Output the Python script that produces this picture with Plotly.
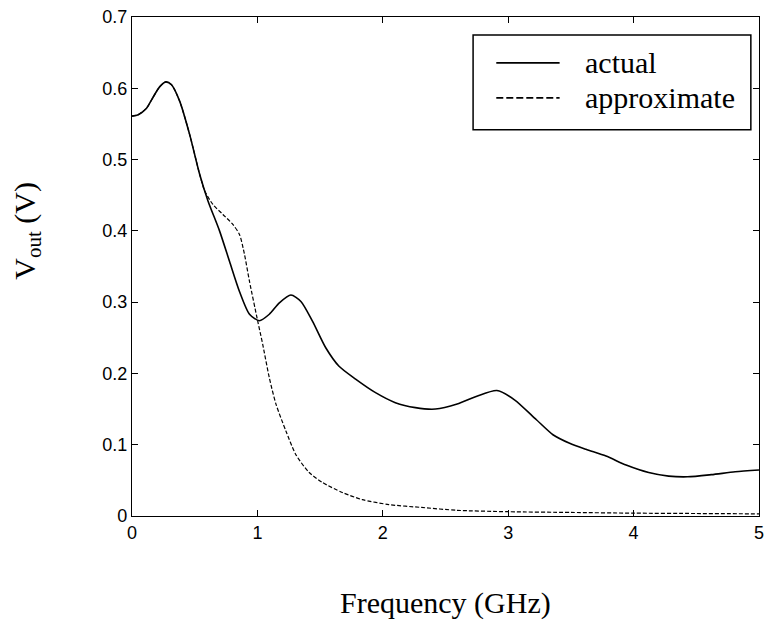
import plotly.graph_objects as go

# Frequency (GHz) and output voltage (V)
actual_f = [0.0, 0.05, 0.116, 0.16, 0.22, 0.27, 0.315, 0.38, 0.46, 0.54, 0.606, 0.698, 0.778,
            0.857, 0.937, 1.016, 1.095, 1.175, 1.267, 1.347, 1.44, 1.545, 1.651,
            1.783, 1.942, 2.10, 2.26, 2.42, 2.593, 2.75, 2.91, 3.05, 3.225,
            3.357, 3.49, 3.62, 3.78, 3.94, 4.12, 4.28, 4.43, 4.62, 4.81, 5.0]
actual_v = [0.561, 0.563, 0.572, 0.585, 0.602, 0.609, 0.605, 0.582, 0.535, 0.479, 0.442, 0.400, 0.357,
            0.315, 0.283, 0.274, 0.283, 0.299, 0.310, 0.301, 0.273, 0.236, 0.210,
            0.192, 0.173, 0.159, 0.152, 0.150, 0.157, 0.168, 0.176, 0.163, 0.135,
            0.114, 0.102, 0.0935, 0.084, 0.0715, 0.061, 0.056, 0.055, 0.058, 0.062, 0.0645]

approx_f = [0.0, 0.05, 0.116, 0.16, 0.22, 0.27, 0.315, 0.38, 0.46, 0.54, 0.58, 0.645, 0.725,
            0.804, 0.857, 0.897, 0.937, 1.003, 1.042, 1.095, 1.148, 1.228, 1.307,
            1.413, 1.519, 1.677, 1.836, 2.048, 2.31, 2.59, 3.0, 3.5, 4.0, 4.5, 5.0]
approx_v = [0.561, 0.563, 0.572, 0.585, 0.602, 0.609, 0.605, 0.582, 0.535, 0.479, 0.456, 0.437, 0.423,
            0.409, 0.395, 0.367, 0.329, 0.273, 0.241, 0.194, 0.157, 0.119, 0.086,
            0.061, 0.047, 0.033, 0.023, 0.016, 0.012, 0.008, 0.006, 0.005, 0.004, 0.0035, 0.003]

x_ticks = [0, 1, 2, 3, 4, 5]
y_ticks = [0, 0.1, 0.2, 0.3, 0.4, 0.5, 0.6, 0.7]
y_tick_text = ["0", "0.1", "0.2", "0.3", "0.4", "0.5", "0.6", "0.7"]
series_names = ["actual", "approximate"]

SERIF = "Liberation Serif, Times New Roman, serif"
SANS = "Liberation Sans, Arial, sans-serif"

fig = go.Figure()
fig.add_trace(go.Scatter(x=actual_f, y=actual_v, mode="lines", name=series_names[0], showlegend=False,
                         line=dict(color="black", width=1.6, shape="spline", smoothing=0.7)))
fig.add_trace(go.Scatter(x=approx_f, y=approx_v, mode="lines", name=series_names[1], showlegend=False,
                         line=dict(color="black", width=1.2, dash="4px,2px", shape="spline", smoothing=0.7)))

axis_common = dict(showgrid=False, zeroline=False, showline=True, linecolor="black", linewidth=1.2,
                   ticks="inside", ticklen=6, tickcolor="black", mirror="ticks",
                   tickfont=dict(family=SANS, size=18, color="black"))

fig.update_xaxes(range=[0, 5], tickvals=x_ticks, ticktext=[str(t) for t in x_ticks],
                 ticklabeloverflow="allow", **axis_common)
fig.update_yaxes(range=[0, 0.7], tickvals=y_ticks, ticktext=y_tick_text, **axis_common)

fig.add_annotation(text="Frequency (GHz)", xref="paper", yref="paper", x=0.5, y=-0.174,
                   xanchor="center", yanchor="middle", showarrow=False,
                   font=dict(family=SERIF, size=30, color="black"))
fig.add_annotation(text="V<sub>out</sub> (V)", xref="paper", yref="paper", x=-0.168, y=0.571,
                   xanchor="center", yanchor="middle", showarrow=False, textangle=-90,
                   font=dict(family=SERIF, size=30, color="black"))

# legend drawn as box + sample lines + labels
fig.add_shape(type="rect", xref="paper", yref="paper", x0=0.544, x1=0.987, y0=0.774, y1=0.964,
              line=dict(color="black", width=1.5), fillcolor="white", layer="above")
legend_rows = [(0.908, dict(color="black", width=1.8)),
               (0.838, dict(color="black", width=1.6, dash="7px,3px"))]
for (yy, ln), name in zip(legend_rows, series_names):
    fig.add_shape(type="line", xref="paper", yref="paper", x0=0.581, x1=0.682, y0=yy, y1=yy,
                  line=ln, layer="above")
    fig.add_annotation(text=name, xref="paper", yref="paper", x=0.72, y=yy,
                       xanchor="left", yanchor="middle", showarrow=False,
                       font=dict(family=SERIF, size=30, color="black"))

fig.update_layout(
    width=764, height=620,
    margin=dict(l=132, r=0, t=17, b=104),
    plot_bgcolor="white", paper_bgcolor="white",
    showlegend=False,
)

fig.write_html("out.html")
